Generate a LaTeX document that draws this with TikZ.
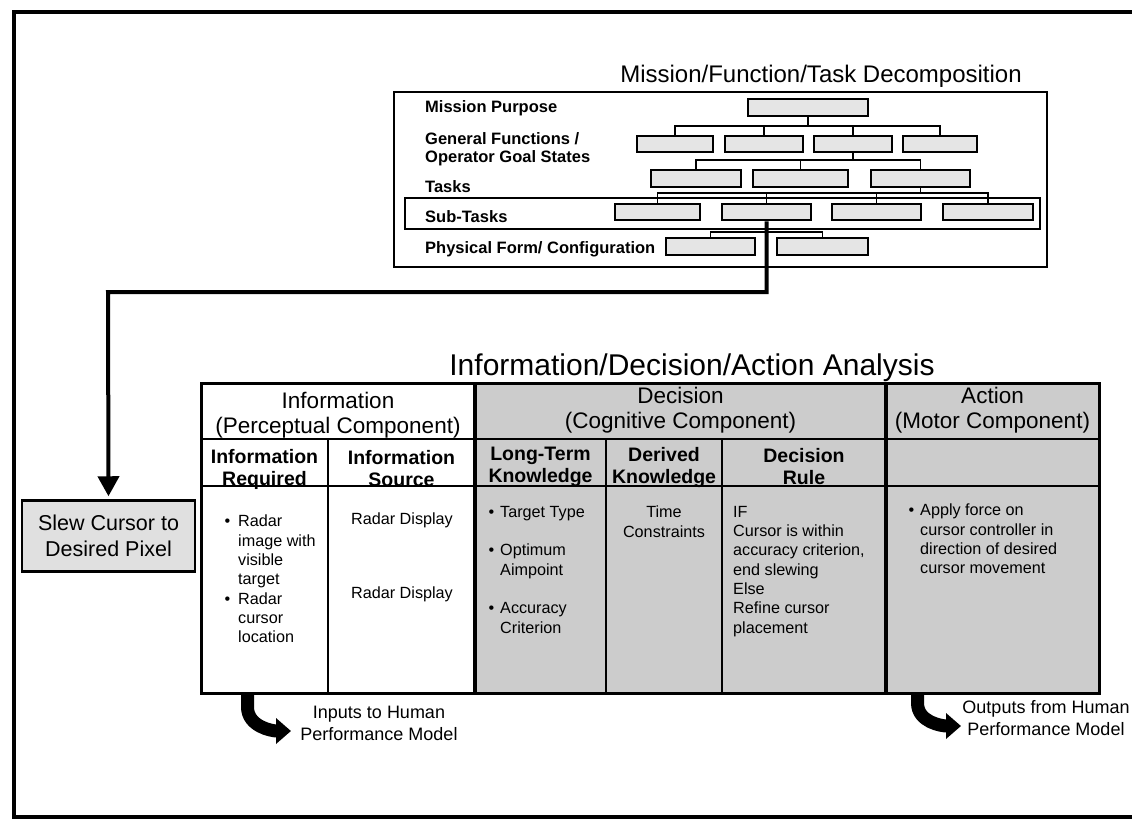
\documentclass[tikz,border=0pt]{standalone}
\usepackage{fontspec}
\setmainfont{Liberation Sans}
\usetikzlibrary{arrows.meta}
\begin{document}
\begin{tikzpicture}[x=1pt,y=-1pt,
  hbox/.style={draw,line width=2pt,fill=black!10,inner sep=0pt,minimum height=16.5pt},
  bus/.style={line width=1.8pt},
  lbl/.style={inner sep=0pt,font=\bfseries\fontsize{16.5}{18}\selectfont,align=left},
  bodytxt/.style={inner sep=0pt,font=\fontsize{16.2}{19.3}\selectfont,align=left},
  bodyc/.style={bodytxt,align=center},
  headtxt/.style={inner sep=0pt,font=\fontsize{22.5}{25}\selectfont,align=center},
  subhead/.style={inner sep=0pt,font=\bfseries\fontsize{19.5}{22}\selectfont,align=center},
  note/.style={inner sep=0pt,font=\fontsize{18}{22}\selectfont,align=center},
  fatarrow/.style={line width=13pt,-{Triangle[length=15pt,width=25pt]}},
  feed/.style={line width=4pt,-{Triangle[length=20pt,width=21pt]},shorten >=3pt}]
\useasboundingbox (0,0) rectangle (1132,825);

% outer frame (open to the right)
\draw[line width=3.5pt] (1140,12) -- (14,12) -- (14,817) -- (1140,817);

% ---------------- decomposition panel ----------------
\node[inner sep=0pt,anchor=base,font=\fontsize{24}{27}\selectfont] (dtitle) at (821,82) {Mission/Function/Task Decomposition};
\draw[line width=2.5pt] (394,92) rectangle (1047,267);
\draw[line width=2pt] (405,198) rectangle (1040,229);

\node[lbl,anchor=base west] (lmis) at (425,112.5) {Mission Purpose};
\node[lbl,anchor=north west] (lgf) at (425,132.5) {General Functions /\\Operator Goal States};
\node[lbl,anchor=base west] (ltask) at (425,192.5) {Tasks};
\node[lbl,anchor=base west] (lsub) at (425,222.5) {Sub-Tasks};
\node[lbl,anchor=base west] (lphys) at (425,253.5) {Physical Form/ Configuration};

\node[hbox,minimum width=120pt] (m) at (808,107.5) {};
\node[hbox,minimum width=76pt] (gf1) at (675,144) {};
\node[hbox,minimum width=78pt] (gf2) at (764,144) {};
\node[hbox,minimum width=78pt] (gf3) at (853,144) {};
\node[hbox,minimum width=74pt] (gf4) at (940,144) {};
\node[hbox,minimum width=90pt] (t1) at (696,178.5) {};
\node[hbox,minimum width=95pt] (t2) at (800.5,178.5) {};
\node[hbox,minimum width=99pt] (t3) at (920.5,178.5) {};
\node[hbox,minimum width=85pt] (s1) at (657.5,212) {};
\node[hbox,minimum width=89pt] (s2) at (766.5,212) {};
\node[hbox,minimum width=89pt] (s3) at (876.5,212) {};
\node[hbox,minimum width=90pt] (s4) at (988,212) {};
\node[hbox,minimum width=89pt] (p1) at (710.5,246.5) {};
\node[hbox,minimum width=91pt] (p2) at (822.5,246.5) {};

\coordinate (bus1) at (808,126);
\coordinate (bus2) at (853,160);
\coordinate (bus3) at (920.5,193);
\coordinate (bus4) at (766.5,232);
\draw[bus] (m.south) -- (bus1);
\draw[bus] (gf1.north) |- (bus1) -| (gf4.north);
\draw[bus] (gf2.north) -- (gf2.north |- bus1);
\draw[bus] (gf3.north) -- (gf3.north |- bus1);
\draw[bus] (gf3.south) -- (bus2);
\draw[bus] (t1.north) |- (bus2) -| (t3.north);
\draw[bus] (t2.north) -- (t2.north |- bus2);
\draw[bus] (t3.south) -- (bus3);
\draw[bus] (s1.north) |- (bus3) -| (s4.north);
\draw[bus] (s2.north) -- (s2.north |- bus3);
\draw[bus] (s3.north) -- (s3.north |- bus3);
\draw[bus] (p1.north) |- (bus4) -| (p2.north);

% ---------------- selected sub-task ----------------
\node[draw,line width=2.5pt,fill=black!12,minimum width=173pt,minimum height=71pt,inner sep=0pt,
      font=\fontsize{21.5}{26}\selectfont,align=center] (slew) at (108.5,536) {Slew Cursor to\\Desired Pixel};
\coordinate (turn) at (108,292);
\draw[feed] (s2.south) |- (turn) -- (slew.north);

% ---------------- analysis table ----------------
\node[inner sep=0pt,anchor=base,font=\fontsize{30}{34}\selectfont] (atitle) at (692,375) {Information/Decision/Action Analysis};

\fill[black!20] (475,383) rectangle (1099,693);
\draw[line width=2.5pt] (201,439) -- (1099,439);
\draw[line width=2.5pt] (201,486) -- (1099,486);
\draw[line width=2pt] (328,439) -- (328,693);
\draw[line width=2pt] (606,439) -- (606,693);
\draw[line width=2pt] (722,439) -- (722,693);
\draw[line width=3.5pt] (475,383) -- (475,693);
\draw[line width=3.5pt] (886,383) -- (886,693);
\draw[line width=3pt] (201,383) rectangle (1099,693);

\node[headtxt] (hinfo) at (338,415.5) {Information\\(Perceptual Component)};
\node[headtxt] (hdec) at (680.5,410.5) {Decision\\(Cognitive Component)};
\node[headtxt] (hact) at (992.5,410.5) {Action\\(Motor Component)};

\node[subhead] (creq) at (264.5,469) {Information\\Required};
\node[subhead] (csrc) at (401.5,469) {Information\\Source};
\node[subhead] (cltk) at (540.5,467) {Long-Term\\Knowledge};
\node[subhead] (cder) at (664,467) {Derived\\Knowledge};
\node[subhead] (crule) at (804,467) {Decision\\Rule};

\node[bodytxt,anchor=north west] (vreq) at (238,515)
  {\llap{\textbullet\hspace{8pt}}Radar\\image with\\visible\\target\\\llap{\textbullet\hspace{8pt}}Radar\\cursor\\location};
\node[bodyc] (vsrc1) at (402,520) {Radar Display};
\node[bodyc] (vsrc2) at (402,594) {Radar Display};
\node[bodytxt,anchor=north west] (vltk) at (500,506)
  {\llap{\textbullet\hspace{6pt}}Target Type\\\mbox{}\\\llap{\textbullet\hspace{6pt}}Optimum\\Aimpoint\\\mbox{}\\\llap{\textbullet\hspace{6pt}}Accuracy\\Criterion};
\node[bodyc,anchor=north] (vder) at (664,506) {Time\\Constraints};
\node[bodytxt,anchor=north west] (vrule) at (733,506)
  {IF\\Cursor is within\\accuracy criterion,\\end slewing\\Else\\Refine cursor\\placement};
\node[bodytxt,anchor=north west] (vact) at (920,504)
  {\llap{\textbullet\hspace{6pt}}Apply force on\\cursor controller in\\direction of desired\\cursor movement};

% ---------------- model inputs / outputs ----------------
\coordinate (inA) at (247.5,693);
\coordinate (inB) at (291,731);
\draw[fatarrow] (inA) -- ++(0,14) to[out=-90,in=180] (inB);
\node[note,anchor=north] (innote) at (379,706) {Inputs to Human\\Performance Model};

\coordinate (outA) at (917.5,693);
\coordinate (outB) at (961,726);
\draw[fatarrow] (outA) -- ++(0,10) to[out=-90,in=180] (outB);
\node[note,anchor=north] (outnote) at (1046,700) {Outputs from Human\\Performance Model};
\end{tikzpicture}
\end{document}
